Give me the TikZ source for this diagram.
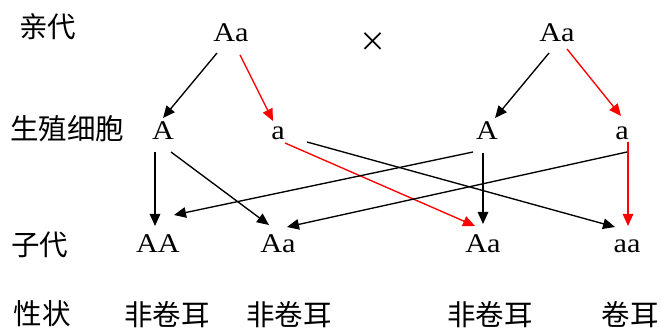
\documentclass[tikz,border=0pt]{standalone}
\usepackage{fontspec}
\usetikzlibrary{arrows.meta}
\setmainfont{Liberation Serif}[FakeStretch=1.12]
\newfontfamily\cjk{Noto Sans CJK SC}
\begin{document}
\begin{tikzpicture}[x=1pt,y=-1pt,
  gene/.style={font=\fontsize{27}{29}\selectfont, inner sep=0pt, anchor=base},
  lab/.style={font=\cjk\fontsize{28.5}{30}\selectfont, inner sep=0pt, anchor=center},
  arr/.style={line width=1.35pt, -{Triangle[length=12pt,width=10.5pt]}},
  rarr/.style={arr, red}]
\useasboundingbox (0,0) rectangle (661,336);
% row labels
\node[lab] (l1) at (48,27) {亲代};
\node[lab] (l2) at (67,129) {生殖细胞};
\node[lab] (l3) at (40,245) {子代};
\node[lab] (l4) at (42,314) {性状};
% parents
\node[gene] (p1) at (231,42) {Aa};
\node[gene] (p2) at (557,42) {Aa};
\node[font=\cjk\fontsize{27}{30}\selectfont, inner sep=0pt] (x) at (373,42) {×};
% gametes
\node[gene] (g1) at (163,140) {A};
\node[gene] (g2) at (278,140) {a};
\node[gene] (g3) at (487,140) {A};
\node[gene] (g4) at (622,140) {a};
% offspring
\node[gene] (o1) at (158,253) {AA};
\node[gene] (o2) at (278,253) {Aa};
\node[gene] (o3) at (483,253) {Aa};
\node[gene] (o4) at (627,253) {aa};
% traits
\node[lab] (t1) at (167,315) {非卷耳};
\node[lab] (t2) at (289,315) {非卷耳};
\node[lab] (t3) at (490,315) {非卷耳};
\node[lab] (t4) at (630,315) {卷耳};
% connector end points
\coordinate (p1L) at (217,53);
\coordinate (p1R) at (240,55);
\coordinate (p2L) at (549,53);
\coordinate (p2R) at (567,49);
\coordinate (g1T) at (163,118);
\coordinate (g2T) at (273,121);
\coordinate (g3T) at (495,118);
\coordinate (g4T) at (621,116);
\coordinate (g1a) at (155,152);
\coordinate (g1b) at (171,152);
\coordinate (g2a) at (285,143);
\coordinate (g2b) at (307,142);
\coordinate (g3a) at (483,153);
\coordinate (g3b) at (473,152);
\coordinate (g4a) at (627,152);
\coordinate (g4b) at (628,142);
\coordinate (o1a) at (155,226);
\coordinate (o1b) at (174,215);
\coordinate (o2a) at (269,225);
\coordinate (o2b) at (287,227);
\coordinate (o3a) at (483,224);
\coordinate (o3b) at (475,226);
\coordinate (o4a) at (615,227);
\coordinate (o4b) at (628,226);
% parent -> gamete
\draw[arr] (p1L) -- (g1T);
\draw[rarr] (p1R) -- (g2T);
\draw[arr] (p2L) -- (g3T);
\draw[rarr] (p2R) -- (g4T);
% gamete -> offspring
\draw[arr] (g1a) -- (o1a);
\draw[arr] (g1b) -- (o2a);
\draw[rarr] (g2a) -- (o3b);
\draw[arr] (g2b) -- (o4a);
\draw[arr] (g3a) -- (o3a);
\draw[arr] (g3b) -- (o1b);
\draw[arr] (g4a) -- (o2b);
\draw[rarr] (g4b) -- (o4b);
\end{tikzpicture}
\end{document}
